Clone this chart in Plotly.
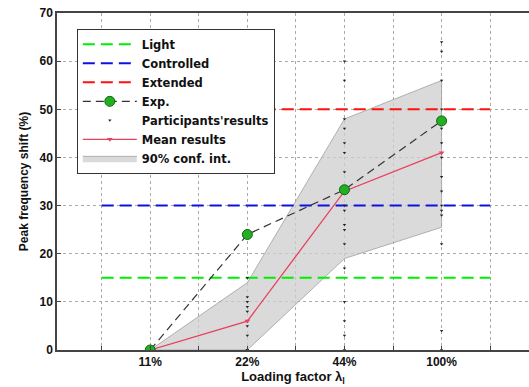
import plotly.graph_objects as go

categories = [1, 2, 3, 4]
cat_labels = ["11%", "22%", "44%", "100%"]
y_ticks = [0, 10, 20, 30, 40, 50, 60, 70]

light_level = 15
controlled_level = 30
extended_level = 50

exp_values = [0, 24, 33.3, 47.6]
mean_values = [0, 6, 33, 41]
ci_upper = [0, 14, 48, 56]
ci_lower = [0, 0, 19, 25.5]

participants_11 = [0, 0, 0, 0, 0]
participants_22 = [0, 0, 0, 3, 5, 8, 9, 10, 11, 15]
participants_44 = [60, 56, 48, 46, 43, 41, 37, 33, 30, 29, 26, 25, 22, 17, 10, 6, 3, 0]
participants_100 = [64, 62, 56, 50, 46, 43, 40, 36, 33, 30, 29, 28, 22, 4, 0]

font_family = "Arial, Liberation Sans, sans-serif"
legend_family = "DejaVu Sans, Verdana, sans-serif"

fig = go.Figure()

# confidence band
fig.add_trace(go.Scatter(
    x=categories + categories[::-1],
    y=ci_upper + ci_lower[::-1],
    fill="toself", fillcolor="rgba(205,205,205,0.75)",
    line=dict(color="rgba(160,160,160,0.8)", width=1),
    mode="lines", name="90% conf. int.", legendrank=7,
))

hx = [0.5, 4.5]
fig.add_trace(go.Scatter(x=hx, y=[light_level] * 2, mode="lines", name="Light",
                         line=dict(color="#00ee00", width=2, dash="12px,6px"), legendrank=1))
fig.add_trace(go.Scatter(x=hx, y=[controlled_level] * 2, mode="lines", name="Controlled",
                         line=dict(color="#1010e0", width=2, dash="12px,6px"), legendrank=2))
fig.add_trace(go.Scatter(x=hx, y=[extended_level] * 2, mode="lines", name="Extended",
                         line=dict(color="#ff1010", width=2, dash="12px,6px"), legendrank=3))

# participants
px, py = [], []
for c, vals in zip(categories, [participants_11, participants_22, participants_44, participants_100]):
    px += [c] * len(vals)
    py += vals
fig.add_trace(go.Scatter(x=px, y=py, mode="markers", name="Participants'results",
                         marker=dict(color="#222222", size=3, symbol="triangle-down"), legendrank=5))

fig.add_trace(go.Scatter(x=categories, y=mean_values, mode="lines+markers", name="Mean results",
                         line=dict(color="#e8405f", width=1.3),
                         marker=dict(color="#e8405f", size=5, symbol="triangle-down"), legendrank=6))

fig.add_trace(go.Scatter(x=categories, y=exp_values, mode="lines+markers", name="Exp.",
                         line=dict(color="#333333", width=1.2, dash="8px,5px"),
                         marker=dict(color="#22b022", size=10, line=dict(color="#116611", width=1)),
                         legendrank=4))

tickvals = [0.5, 1, 1.5, 2, 2.5, 3, 3.5, 4, 4.5]
ticktext = ["", cat_labels[0], "", cat_labels[1], "", cat_labels[2], "", cat_labels[3], ""]

fig.update_layout(
    width=529, height=387,
    margin=dict(l=57, r=0, t=13, b=37),
    paper_bgcolor="white", plot_bgcolor="white",
    font=dict(family=font_family, size=12, color="#222222"),
    showlegend=True,
    legend=dict(
        x=0.042, y=0.953, xanchor="left", yanchor="top",
        bgcolor="white", bordercolor="#333333", borderwidth=1,
        font=dict(family=legend_family, size=11.5, color="#111111", weight="bold"),
        tracegroupgap=0, itemwidth=54,
    ),
    xaxis=dict(
        range=[0.04, 4.9], tickvals=tickvals, ticktext=ticktext,
        showgrid=True, gridcolor="#aaaaaa", griddash="dot", gridwidth=1,
        showline=True, linecolor="#444444", linewidth=1.5, mirror=True,
        ticks="inside", ticklen=4, tickcolor="#444444",
        tickfont=dict(family=font_family, size=12, weight="bold", color="#111111"),
        title=dict(text="<b>Loading factor λ<sub>l</sub></b>", standoff=0,
                   font=dict(family=font_family, size=13, color="#111111")),
        zeroline=False,
    ),
    yaxis=dict(
        range=[0, 70.02], tickvals=y_ticks,
        showgrid=True, gridcolor="#aaaaaa", griddash="dot", gridwidth=1,
        showline=True, linecolor="#444444", linewidth=1.5,
        ticks="inside", ticklen=4, tickcolor="#444444",
        tickfont=dict(family=font_family, size=12, weight="bold", color="#111111"),
        title=dict(text="Peak frequency shift (%)", standoff=8,
                   font=dict(family=font_family, size=12, color="#111111", weight="bold")),
        zeroline=False,
    ),
)

fig.write_html("out.html", config={"displayModeBar": False},
               post_script="document.body.style.margin='0';document.body.style.overflow='hidden';")
